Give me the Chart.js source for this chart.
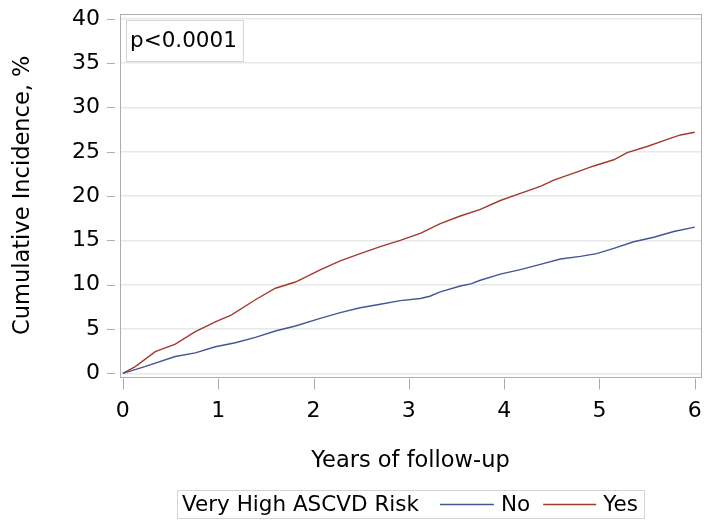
<!DOCTYPE html>
<html lang="en">

<head>
    <meta charset="UTF-8">
    <title>Cumulative Incidence</title>
    <style>
        html, body { margin: 0; padding: 0; background: #fff; }
        .wrap { width: 713px; height: 520px; }
    </style>
</head>

<body>
    <div class="wrap">
        <canvas id="incidence" width="713" height="520"></canvas>
    </div>

    <script src="https://cdn.jsdelivr.net/npm/chart.js@4.4.4/dist/chart.umd.min.js"></script>
    <script>
        // cumulative incidence (%) by years of follow-up
        const yearsNo = [0, 0.23, 0.55, 0.76, 0.97, 1.18, 1.39, 1.6, 1.81, 2.07, 2.28, 2.49, 2.7, 2.91, 3.12, 3.22,
            3.33, 3.54, 3.65, 3.75, 3.96, 4.17, 4.38, 4.59, 4.8, 4.97, 5.15, 5.36, 5.57, 5.78, 6.0];
        const incidenceNo = [0, 0.75, 1.9, 2.3, 3.0, 3.45, 4.06, 4.77, 5.34, 6.2, 6.85, 7.4, 7.8, 8.2, 8.45, 8.7,
            9.2, 9.85, 10.1, 10.5, 11.2, 11.7, 12.3, 12.9, 13.2, 13.5, 14.1, 14.85, 15.35, 16.0, 16.5];

        const yearsYes = [0, 0.13, 0.34, 0.55, 0.76, 0.97, 1.14, 1.39, 1.6, 1.81, 2.07, 2.28, 2.49, 2.7, 2.91, 3.12,
            3.33, 3.54, 3.75, 3.96, 4.17, 4.38, 4.52, 4.73, 4.94, 5.15, 5.29, 5.5, 5.71, 5.85, 6.0];
        const incidenceYes = [0, 0.75, 2.44, 3.3, 4.7, 5.8, 6.6, 8.3, 9.6, 10.3, 11.66, 12.7, 13.5, 14.3, 15.0, 15.8,
            16.9, 17.75, 18.5, 19.5, 20.3, 21.1, 21.8, 22.6, 23.4, 24.1, 24.9, 25.6, 26.4, 26.9, 27.2];

        const xTicks = [0, 1, 2, 3, 4, 5, 6];
        const yTicks = [0, 5, 10, 15, 20, 25, 30, 35, 40];

        const groupLabels = ['No', 'Yes'];
        const groupColors = ['#445694', '#a23a2e'];
        const legendTitle = 'Very High ASCVD Risk';
        const pValueText = 'p<0.0001';

        const FONT = '"DejaVu Sans", sans-serif';
        const frameColor = '#a9aeb4';

        function toPoints(xs, ys) {
            return xs.map((x, i) => ({ x: x, y: ys[i] }));
        }

        // frame, outside tick marks, p-value box and bottom legend
        const decorations = {
            id: 'decorations',
            afterDraw(chart) {
                const ctx = chart.ctx;
                const area = chart.chartArea;
                const xs = chart.scales.x;
                const ys = chart.scales.y;

                ctx.save();
                ctx.strokeStyle = frameColor;
                ctx.lineWidth = 1;
                ctx.strokeRect(Math.round(area.left) + 0.5, Math.round(area.top) + 0.5,
                    Math.round(area.right - area.left), Math.round(area.bottom - area.top));

                // tick marks sit a little off the frame
                ctx.beginPath();
                xTicks.forEach(v => {
                    const px = Math.round(xs.getPixelForValue(v)) + 0.5;
                    ctx.moveTo(px, area.bottom + 2);
                    ctx.lineTo(px, area.bottom + 13);
                });
                yTicks.forEach(v => {
                    const py = Math.round(ys.getPixelForValue(v)) + 0.5;
                    ctx.moveTo(area.left - 5, py);
                    ctx.lineTo(area.left - 13, py);
                });
                ctx.stroke();

                // p-value inset
                ctx.font = '21.5px ' + FONT;
                ctx.textBaseline = 'middle';
                ctx.fillStyle = '#000';
                const pw = ctx.measureText(pValueText).width;
                ctx.strokeStyle = '#d4d4d4';
                ctx.strokeRect(area.left + 6.5, area.top + 6.5, pw + 10, 41);
                ctx.fillText(pValueText, area.left + 10, area.top + 27.5);

                // legend
                const lineLen = [54, 53];
                const labelW = groupLabels.map(t => ctx.measureText(t).width);
                const titleW = ctx.measureText(legendTitle).width;
                const total = 5 + titleW + 21 + lineLen[0] + 7 + labelW[0] + 13 + lineLen[1] + 7 + labelW[1] + 6;
                const lx = Math.round((area.left + area.right) / 2 - total / 2);
                const top = 490, h = 28, cy = top + h / 2;
                ctx.strokeStyle = '#d4d4d4';
                ctx.strokeRect(lx + 0.5, top + 0.5, Math.round(total), h);
                let x = lx + 5;
                ctx.fillText(legendTitle, x, cy + 1);
                x += titleW + 21;
                ctx.lineWidth = 1.4;
                ctx.strokeStyle = groupColors[0];
                ctx.beginPath();
                ctx.moveTo(x, cy + 0.5);
                ctx.lineTo(x + lineLen[0], cy + 0.5);
                ctx.stroke();
                x += lineLen[0] + 7;
                ctx.fillText(groupLabels[0], x, cy + 1);
                x += labelW[0] + 13;
                ctx.strokeStyle = groupColors[1];
                ctx.beginPath();
                ctx.moveTo(x, cy + 0.5);
                ctx.lineTo(x + lineLen[1], cy + 0.5);
                ctx.stroke();
                x += lineLen[1] + 7;
                ctx.fillText(groupLabels[1], x, cy + 1);
                ctx.restore();
            }
        };

        const ctx = document.getElementById('incidence').getContext('2d');
        new Chart(ctx, {
            type: 'line',
            data: {
                datasets: [{
                    label: groupLabels[0],
                    data: toPoints(yearsNo, incidenceNo),
                    borderColor: groupColors[0],
                    borderWidth: 1.4,
                    pointRadius: 0,
                    tension: 0,
                    fill: false
                }, {
                    label: groupLabels[1],
                    data: toPoints(yearsYes, incidenceYes),
                    borderColor: groupColors[1],
                    borderWidth: 1.4,
                    pointRadius: 0,
                    tension: 0,
                    fill: false
                }]
            },
            options: {
                responsive: false,
                animation: false,
                layout: {
                    padding: { top: 14, right: 12, bottom: 0, left: 0 }
                },
                plugins: {
                    legend: { display: false },
                    tooltip: { enabled: false }
                },
                scales: {
                    x: {
                        type: 'linear',
                        min: -0.03,
                        max: 6.065,
                        afterBuildTicks: scale => { scale.ticks = xTicks.map(v => ({ value: v })); },
                        afterFit: scale => {
                            scale.height = 143.5;
                            scale.paddingLeft = 0;
                            scale.paddingRight = 0;
                        },
                        grid: {
                            drawOnChartArea: false,
                            tickColor: 'rgba(0,0,0,0)',
                            tickLength: 13
                        },
                        border: { display: false },
                        ticks: {
                            color: '#000',
                            padding: 9,
                            maxRotation: 0,
                            font: { family: FONT, size: 22 }
                        },
                        title: {
                            display: true,
                            text: 'Years of follow-up',
                            color: '#000',
                            padding: { top: 0, bottom: 45 },
                            font: { family: FONT, size: 22.5 }
                        }
                    },
                    y: {
                        min: -0.36,
                        max: 40.55,
                        afterBuildTicks: scale => { scale.ticks = yTicks.map(v => ({ value: v })); },
                        afterFit: scale => {
                            scale.width = 120;
                            scale.paddingTop = 0;
                            scale.paddingBottom = 0;
                        },
                        grid: {
                            color: '#e8e8e8',
                            lineWidth: 1.5,
                            tickColor: 'rgba(0,0,0,0)',
                            tickLength: 13
                        },
                        border: { display: false },
                        ticks: {
                            color: '#000',
                            padding: 7,
                            font: { family: FONT, size: 22 }
                        },
                        title: {
                            display: true,
                            text: 'Cumulative Incidence, %',
                            color: '#000',
                            padding: { top: 10, bottom: 0 },
                            font: { family: FONT, size: 22.5 }
                        }
                    }
                }
            },
            plugins: [decorations]
        });
    </script>
</body>

</html>
